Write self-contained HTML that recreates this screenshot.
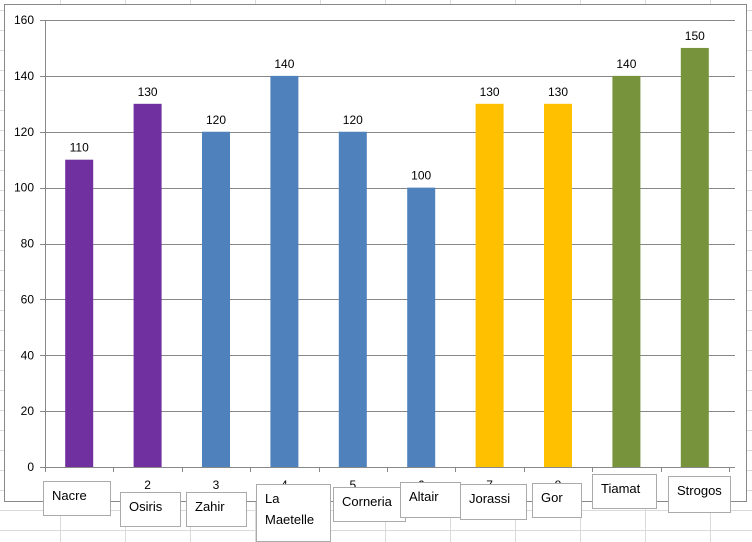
<!DOCTYPE html>
<html><head><meta charset="utf-8"><style>
body{margin:0;width:752px;height:542px;overflow:hidden;background:#fff;font-family:"Liberation Sans",sans-serif}
</style></head><body>
<svg id="c" width="752" height="542" xmlns="http://www.w3.org/2000/svg" style="position:absolute;left:0;top:0">
<g id="sheet"></g>
<rect x="4.5" y="4.5" width="742" height="497" fill="#fff" stroke="#888"/>
<g id="grid"></g>
<g id="bars"></g>
<g id="xaxis"></g>
<g id="boxes"></g>
</svg>
<script>
const categories=["Nacre","Osiris","Zahir","La Maetelle","Corneria","Altair","Jorassi","Gor","Tiamat","Strogos"];
const values=[110,130,120,140,120,100,130,130,140,150];
const colors=["#7030a0","#7030a0","#4f81bd","#4f81bd","#4f81bd","#4f81bd","#ffc000","#ffc000","#77933c","#77933c"];
const yTicks=[0,20,40,60,80,100,120,140,160];
const NS="http://www.w3.org/2000/svg";
const X0=45,X1=729,XG=735,Y0=467,Y1=20;
const y=v=>Y0-(v/160)*(Y0-Y1);
const slot=(X1-X0)/categories.length;
const xc=i=>X0+slot*(i+0.5);
function mk(t,a,p){const e=document.createElementNS(NS,t);for(const k in a)e.setAttribute(k,a[k]);p.appendChild(e);return e;}
const sh=document.getElementById('sheet');
for(let yy=10;yy<542;yy+=20){mk('line',{x1:0,x2:752,y1:yy+.5,y2:yy+.5,stroke:'#dadada'},sh);}
for(let xx=60;xx<752;xx+=65){mk('line',{x1:xx+.5,x2:xx+.5,y1:0,y2:542,stroke:'#dadada'},sh);}
const g=document.getElementById('grid');
yTicks.forEach(t=>{
 const l=mk('line',{x1:X0-5,x2:XG,y1:Math.round(y(t))+.5,y2:Math.round(y(t))+.5,stroke:'#888'},g);
 
 
 const tx=mk('text',{x:X0-11,y:y(t)+4,'text-anchor':'end','font-size':'12',fill:'#000'},g);
 tx.textContent=t;
 
 
});
mk('line',{x1:X0+.5,x2:X0+.5,y1:Y1,y2:Y0,stroke:'#888'},g);
const b=document.getElementById('bars');
values.forEach((v,i)=>{
 const r=mk('rect',{x:xc(i)-14,y:y(v),width:28,height:Y0-y(v),fill:colors[i]},b);
 
 
 const t=mk('text',{x:xc(i),y:y(v)-8,'text-anchor':'middle','font-size':'12',fill:'#000'},b);
 t.textContent=v;
 
 
});
const xa=document.getElementById('xaxis');
for(let i=0;i<=categories.length;i++){mk('line',{x1:Math.round(X0+slot*i)+.5,x2:Math.round(X0+slot*i)+.5,y1:Y0,y2:Y0+5,stroke:'#888'},xa);}
for(let i=1;i<categories.length-1;i++){const t=mk('text',{x:xc(i),y:Y0+22,'text-anchor':'middle','font-size':'12'},xa);t.textContent=i+1;}
const boxPos=[[43,481,67,34],[120,492,60,34],[186,492,60,34],[256,484,74,57],[333,487,72,34],[400,482,60,35],[460,484,66,35],[532,483,49,34],[592,474,64,34],[668,476,62,36]];
const bx=document.getElementById('boxes');
categories.forEach((c,i)=>{
 const [x,yy,w,h]=boxPos[i];
 const r=mk('rect',{x:x+.5,y:yy+.5,width:w,height:h,fill:'#fff',stroke:'#aaa'},bx);
 
 
 const words=c==="La Maetelle"?["La","Maetelle"]:[c];
 words.forEach((wd,k)=>{
  const t=mk('text',{x:x+9,y:yy+19+k*21,'font-size':'13',fill:'#000'},bx);
  t.textContent=wd;
  
  
 });
});
</script>
</body></html>
